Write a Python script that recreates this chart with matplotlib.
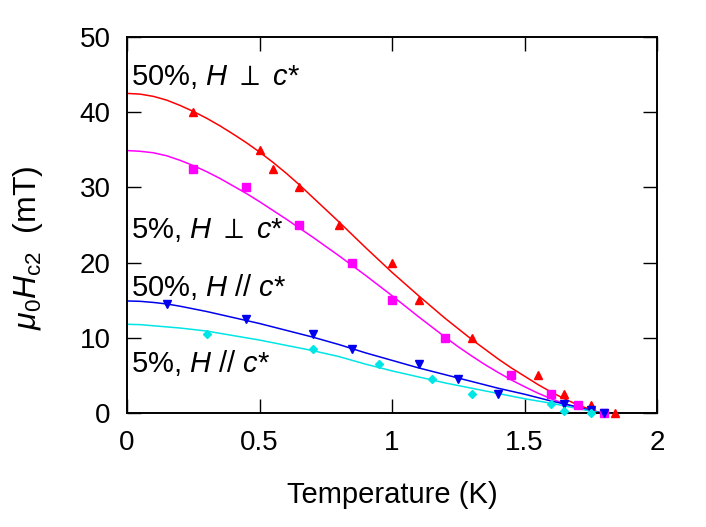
import matplotlib
matplotlib.use("Agg")
import matplotlib.pyplot as plt

plt.rcParams['font.family'] = ['Liberation Sans', 'DejaVu Sans']
plt.rcParams['mathtext.fontset'] = 'custom'
plt.rcParams['mathtext.rm'] = 'Liberation Sans'
plt.rcParams['mathtext.it'] = 'Liberation Sans:italic'
plt.rcParams['mathtext.bf'] = 'Liberation Sans:bold'
plt.rcParams['mathtext.fallback'] = 'stixsans'

# ---- measured data ----
T_50_perp = [0.25, 0.5, 0.55, 0.65, 0.8, 1.0, 1.1, 1.3, 1.55, 1.65, 1.75, 1.84]
H_50_perp = [40, 35, 32.5, 30, 25, 20, 15, 10, 5, 2.5, 1, 0]

T_5_perp = [0.25, 0.45, 0.65, 0.85, 1.0, 1.2, 1.45, 1.6, 1.7, 1.8]
H_5_perp = [32.5, 30, 25, 20, 15, 10, 5, 2.5, 1, 0]

T_50_par = [0.15, 0.45, 0.7, 0.85, 1.1, 1.25, 1.4, 1.65, 1.75, 1.8]
H_50_par = [14.5, 12.5, 10.5, 8.5, 6.5, 4.5, 2.5, 1.2, 0.4, 0]

T_5_par = [0.3, 0.7, 0.95, 1.15, 1.3, 1.6, 1.65, 1.75]
H_5_par = [10.5, 8.5, 6.5, 4.5, 2.5, 1.2, 0.3, 0]

# ---- fit curves ----
fit_T = [0, 0.05, 0.1, 0.15, 0.2, 0.25, 0.3, 0.35, 0.4, 0.45, 0.5, 0.55, 0.6,
         0.65, 0.7, 0.75, 0.8, 0.85, 0.9, 0.95, 1.0, 1.05, 1.1, 1.15, 1.2,
         1.25, 1.3, 1.35, 1.4, 1.45, 1.5, 1.55, 1.6, 1.65, 1.7, 1.75, 1.79]
fit_50_perp = [42.5, 42.4, 42.1, 41.6, 40.9, 40.1, 39.2, 38.2, 37.1, 35.95, 34.7,
               33.35, 31.9, 30.35, 28.7, 27.05, 25.4, 23.7, 22.0, 20.35, 18.7,
               17.15, 15.6, 14.1, 12.6, 11.2, 9.8, 8.5, 7.2, 6.0, 4.9, 3.8, 2.8,
               1.9, 1.1, 0.45, 0]
fit_5_perp = [34.9, 34.8, 34.6, 34.2, 33.6, 32.9, 32.1, 31.2, 30.2, 29.2, 28.1,
              26.95, 25.8, 24.6, 23.4, 22.15, 20.9, 19.6, 18.3, 16.95, 15.6,
              14.2, 12.8, 11.45, 10.1, 8.8, 7.6, 6.45, 5.4, 4.4, 3.5, 2.65, 1.9,
              1.25, 0.7, 0.25, 0]
fit_50_par = [14.9, 14.85, 14.7, 14.5, 14.2, 13.85, 13.5, 13.1, 12.7, 12.3, 11.9,
              11.45, 11.0, 10.55, 10.1, 9.6, 9.1, 8.55, 8.0, 7.5, 7.0,
              6.5, 6.0, 5.55, 5.1, 4.65, 4.2, 3.75, 3.3, 2.9, 2.5, 2.05, 1.6,
              1.2, 0.8, 0.35, 0]
fit_5_par = [11.8, 11.75, 11.6, 11.45, 11.3, 11.1, 10.9, 10.6, 10.3, 10.0, 9.7,
             9.35, 9.0, 8.65, 8.3, 7.9, 7.5, 7.0, 6.5, 6.05, 5.6,
             5.2, 4.8, 4.4, 4.0, 3.65, 3.3, 2.95, 2.6, 2.25, 1.9, 1.6, 1.3,
             0.95, 0.6, 0.25, 0]

labels = [r'50%, $H\ \perp\ c$*', r'5%, $H\ \perp\ c$*',
          r'50%, $H$ // $c$*', r'5%, $H$ // $c$*']
label_y = [43.6, 23.3, 15.5, 5.5]

xticks = [0, 0.5, 1, 1.5, 2]
xticklabels = ['0', '0.5', '1', '1.5', '2']
yticks = [0, 10, 20, 30, 40, 50]

red = '#ff0000'
magenta = '#ff00ff'
blue = '#0000ee'
cyan = '#00e5e5'

fig = plt.figure(figsize=(7.06, 5.27), dpi=100)
ax = fig.add_axes([0.180, 0.2163, 0.7506, 0.7135])

ax.plot(fit_T, fit_50_perp, color=red, lw=1.1)
ax.plot(fit_T, fit_5_perp, color=magenta, lw=1.1)
ax.plot(fit_T, fit_50_par, color=blue, lw=1.1)
ax.plot(fit_T, fit_5_par, color=cyan, lw=1.1)

ax.plot(T_50_perp, H_50_perp, ls='none', marker='^', ms=5.5, color=red, clip_on=False, zorder=5)
ax.plot(T_5_perp, H_5_perp, ls='none', marker='s', ms=6, color=magenta, clip_on=False, zorder=5)
ax.plot(T_50_par, H_50_par, ls='none', marker='v', ms=5.5, color=blue, clip_on=False, zorder=5)
ax.plot(T_5_par, H_5_par, ls='none', marker='D', ms=4.5, color=cyan, clip_on=False, zorder=5)

for lab, yy in zip(labels, label_y):
    ax.text(0.016, yy, lab, fontsize=21, va='baseline', ha='left', color='black')

ax.set_xlim(0, 2)
ax.set_ylim(0, 50)
ax.set_xticks(xticks)
ax.set_xticklabels(xticklabels)
ax.set_yticks(yticks)
ax.tick_params(direction='in', length=10, width=1, labelsize=20, top=True, right=True, pad=12)
ax.tick_params(axis='y', pad=12)
for s in ax.spines.values():
    s.set_linewidth(1.4)

ax.set_xlabel('Temperature (K)', fontsize=21, labelpad=18)
ax.set_ylabel(r'$\mu_0H_{\mathrm{c2}}$  (mT)', fontsize=23)
ax.yaxis.set_label_coords(-0.155, 0.44)

fig.savefig('out.png', dpi=100)
